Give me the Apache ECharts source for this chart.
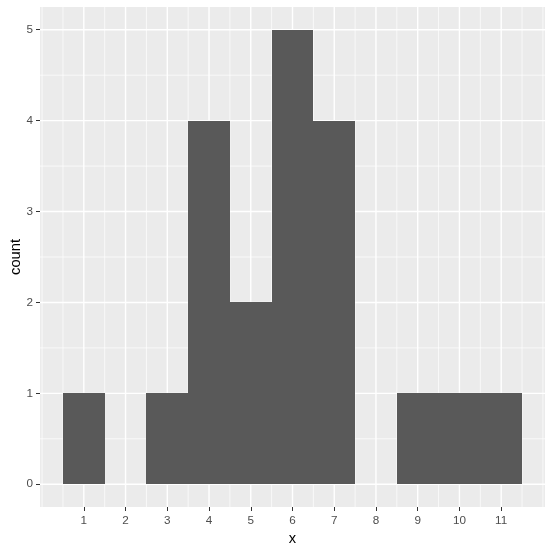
<!DOCTYPE html>
<html><head><meta charset="utf-8">
<script src="https://cdn.jsdelivr.net/npm/echarts@6/dist/echarts.min.js"></script>
<style>html,body{margin:0;padding:0;background:#fff}#c{width:553px;height:552px}</style>
</head><body><div id="c"></div>
<script>
const binCenters = [1, 2, 3, 4, 5, 6, 7, 8, 9, 10, 11];
const counts = [1, 0, 1, 4, 2, 5, 4, 0, 1, 1, 1];
const xTicks = [1, 2, 3, 4, 5, 6, 7, 8, 9, 10, 11];
const yTicks = [0, 1, 2, 3, 4, 5];
const xMinorGrid = [0, 0.5, 1.5, 2.5, 3.5, 4.5, 5.5, 6.5, 7.5, 8.5, 9.5, 10.5, 11.5, 12];
const yMinorGrid = [0.5, 1.5, 2.5, 3.5, 4.5];
const binWidth = 1;

const FONT = '"Liberation Sans", Arial, sans-serif';
const chart = echarts.init(document.getElementById('c'), null, {renderer: 'canvas'});

// grid line records: [value, direction (0 = vertical, 1 = horizontal), isMajor]
const gridData = [];
xMinorGrid.forEach(v => gridData.push([v, 0, 0]));
yMinorGrid.forEach(v => gridData.push([v, 1, 0]));
xTicks.forEach(v => gridData.push([v, 0, 1]));
yTicks.forEach(v => gridData.push([v, 1, 1]));

const option = {
  animation: false,
  backgroundColor: '#fff',
  grid: {left: 40, right: 8, top: 7, bottom: 45, show: true, backgroundColor: '#EBEBEB', borderWidth: 0, containLabel: false, outerBoundsMode: 'none'},
  xAxis: {
    type: 'value', min: -0.05, max: 12.05,
    name: 'x', nameLocation: 'middle', nameGap: 24, nameMoveOverlap: false,
    nameTextStyle: {color: '#000', fontSize: 14.7, fontFamily: FONT},
    axisLine: {show: false, onZero: false},
    axisTick: {show: true, customValues: xTicks, length: 4, lineStyle: {color: '#333', width: 1}},
    axisLabel: {customValues: xTicks, color: '#4D4D4D', fontSize: 11.7, fontFamily: FONT, margin: 8},
    splitLine: {show: false}
  },
  yAxis: {
    type: 'value', min: -0.25, max: 5.25,
    name: 'count', nameLocation: 'middle', nameGap: 17, nameRotate: 90, nameMoveOverlap: false,
    nameTextStyle: {color: '#000', fontSize: 14.7, fontFamily: FONT},
    axisLine: {show: false, onZero: false},
    axisTick: {show: true, customValues: yTicks, length: 4, lineStyle: {color: '#333', width: 1}},
    axisLabel: {customValues: yTicks, color: '#4D4D4D', fontSize: 11.7, fontFamily: FONT, margin: 7},
    splitLine: {show: false}
  },
  series: [
    {
      type: 'custom', z: 1, silent: true, clip: false,
      data: gridData,
      encode: {x: 0},
      renderItem: function (params, api) {
        const v = api.value(0), dir = api.value(1), major = api.value(2);
        const cs = params.coordSys;
        const w = major ? 1.4 : 0.7;
        let shape;
        if (dir === 0) {
          const px = api.coord([v, 0])[0];
          shape = {x1: px, y1: cs.y, x2: px, y2: cs.y + cs.height};
        } else {
          const py = api.coord([0, v])[1];
          shape = {x1: cs.x, y1: py, x2: cs.x + cs.width, y2: py};
        }
        return {type: 'line', shape: shape, style: {stroke: '#fff', lineWidth: w}};
      }
    },
    {
      type: 'custom', z: 2, silent: true,
      data: binCenters.map((x, i) => [x, counts[i]]),
      encode: {x: 0, y: 1},
      renderItem: function (params, api) {
        const x = api.value(0), c = api.value(1);
        if (!c) return null;
        const p0 = api.coord([x - binWidth / 2, 0]);
        const p1 = api.coord([x + binWidth / 2, c]);
        const x0 = Math.round(p0[0]), x1 = Math.round(p1[0]);
        const y0 = Math.round(p0[1]), y1 = Math.round(p1[1]);
        return {type: 'rect', shape: {x: x0, y: y1, width: x1 - x0, height: y0 - y1}, style: {fill: '#595959'}};
      }
    }
  ]
};
chart.setOption(option);
</script></body></html>
